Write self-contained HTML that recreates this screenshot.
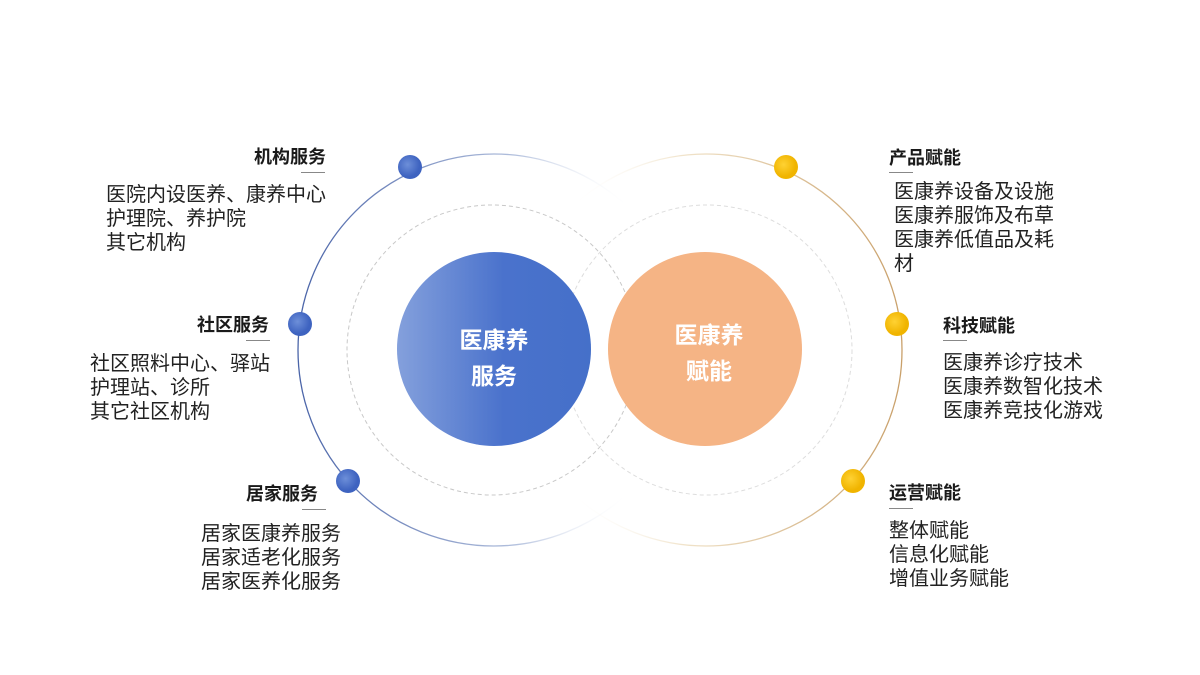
<!DOCTYPE html>
<html><head><meta charset="utf-8"><style>
body{margin:0;width:1200px;height:675px;background:#fff;position:relative;overflow:hidden;font-family:"Liberation Sans","Noto Sans CJK SC",sans-serif;color:#222}
.t{position:absolute;font-weight:bold;font-size:18px;line-height:22px;color:#1a1a1a}
.u{position:absolute;height:1px;width:24px;background:#888}
.b{position:absolute;font-size:20px;line-height:24px;color:#222;white-space:nowrap}
svg{position:absolute;left:0;top:0}
</style></head><body>
<svg width="1200" height="675">
<defs>
<linearGradient id="lg" x1="0" x2="1" y1="0" y2="0"><stop offset="0" stop-color="#4a64a8"/><stop offset="0.55" stop-color="#b0bedc"/><stop offset="0.85" stop-color="#fff" stop-opacity="0"/></linearGradient>
<linearGradient id="rg" x1="1" x2="0" y1="0" y2="0"><stop offset="0" stop-color="#c9a06a"/><stop offset="0.55" stop-color="#f0e2c8"/><stop offset="0.85" stop-color="#fff" stop-opacity="0"/></linearGradient>
<linearGradient id="bf" x1="0" x2="1"><stop offset="0" stop-color="#84a0dc"/><stop offset="0.55" stop-color="#4a72cc"/><stop offset="1" stop-color="#4570c9"/></linearGradient>
<radialGradient id="dotb" cx="0.4" cy="0.4"><stop offset="0" stop-color="#6d8fd9"/><stop offset="1" stop-color="#3e63c0"/></radialGradient>
<radialGradient id="doty" cx="0.4" cy="0.4"><stop offset="0" stop-color="#ffd233"/><stop offset="1" stop-color="#f0b400"/></radialGradient>
</defs>
<circle cx="494" cy="350" r="196" fill="none" stroke="url(#lg)" stroke-width="1.3"/>
<circle cx="706" cy="350" r="196" fill="none" stroke="url(#rg)" stroke-width="1.3"/>
<circle cx="492" cy="350" r="145" fill="none" stroke="#c8c8c8" stroke-width="1" stroke-dasharray="4 3"/>
<circle cx="707" cy="350" r="145" fill="none" stroke="#ddd" stroke-width="1" stroke-dasharray="4 3"/>
<circle cx="494" cy="349" r="97" fill="url(#bf)"/>
<circle cx="705" cy="349" r="97" fill="#f5b485"/>
<text x="494" y="348" text-anchor="middle" font-size="23" font-weight="bold" fill="#fff" font-family="Liberation Sans,Noto Sans CJK SC,sans-serif">医康养</text>
<text x="494" y="384" text-anchor="middle" font-size="23" font-weight="bold" fill="#fff" font-family="Liberation Sans,Noto Sans CJK SC,sans-serif">服务</text>
<text x="709" y="343" text-anchor="middle" font-size="23" font-weight="bold" fill="#fff" font-family="Liberation Sans,Noto Sans CJK SC,sans-serif">医康养</text>
<text x="709" y="379" text-anchor="middle" font-size="23" font-weight="bold" fill="#fff" font-family="Liberation Sans,Noto Sans CJK SC,sans-serif">赋能</text>
<circle cx="410" cy="167" r="12" fill="url(#dotb)"/>
<circle cx="300" cy="324" r="12" fill="url(#dotb)"/>
<circle cx="348" cy="481" r="12" fill="url(#dotb)"/>
<circle cx="786" cy="167" r="12" fill="url(#doty)"/>
<circle cx="897" cy="324" r="12" fill="url(#doty)"/>
<circle cx="853" cy="481" r="12" fill="url(#doty)"/>
</svg>

<div class="t" style="left:254px;top:146px">机构服务</div>
<div class="u" style="left:301px;top:172px"></div>
<div class="b" style="left:106px;top:183px">医院内设医养、康养中心<br>护理院、养护院<br>其它机构</div>

<div class="t" style="left:197px;top:314px">社区服务</div>
<div class="u" style="left:246px;top:340px"></div>
<div class="b" style="left:90px;top:352px">社区照料中心、驿站<br>护理站、诊所<br>其它社区机构</div>

<div class="t" style="left:246px;top:483px">居家服务</div>
<div class="u" style="left:302px;top:509px"></div>
<div class="b" style="left:201px;top:522px">居家医康养服务<br>居家适老化服务<br>居家医养化服务</div>

<div class="t" style="left:889px;top:147px">产品赋能</div>
<div class="u" style="left:889px;top:172px"></div>
<div class="b" style="left:894px;top:180px">医康养设备及设施<br>医康养服饰及布草<br>医康养低值品及耗<br>材</div>

<div class="t" style="left:943px;top:315px">科技赋能</div>
<div class="u" style="left:943px;top:340px"></div>
<div class="b" style="left:943px;top:351px">医康养诊疗技术<br>医康养数智化技术<br>医康养竞技化游戏</div>

<div class="t" style="left:889px;top:482px">运营赋能</div>
<div class="u" style="left:889px;top:508px"></div>
<div class="b" style="left:889px;top:519px">整体赋能<br>信息化赋能<br>增值业务赋能</div>
</body></html>
